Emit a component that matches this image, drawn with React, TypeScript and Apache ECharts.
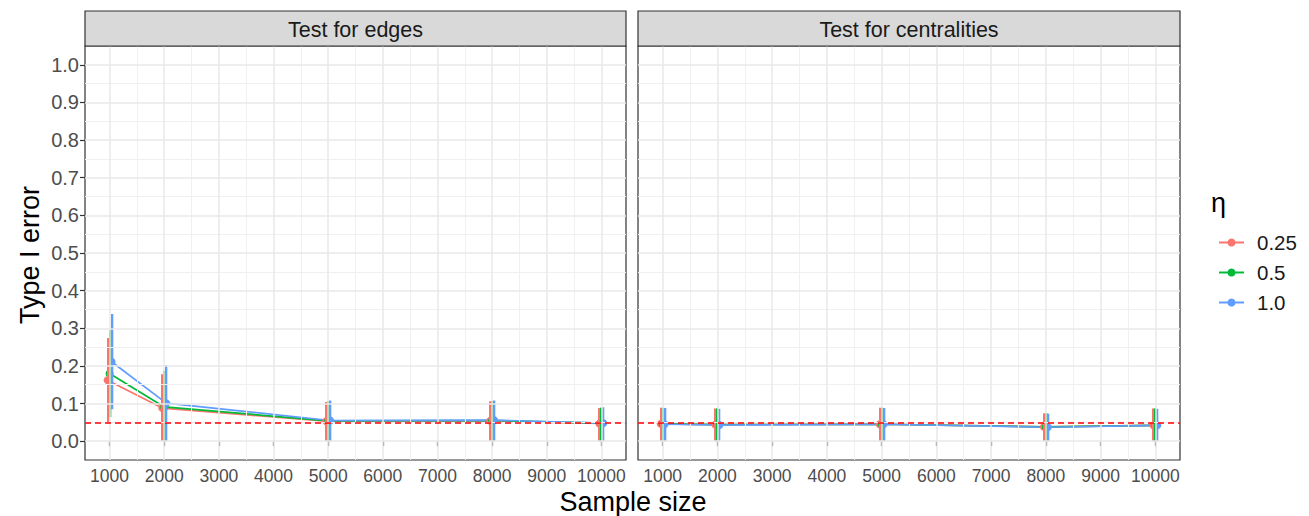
import React, { useEffect, useRef } from 'react';
import * as echarts from 'echarts';

const FONT = 'Liberation Sans, Arial, sans-serif';

const sampleSizes = [1000, 2000, 5000, 8000, 10000];
const etaLabels = ['0.25', '0.5', '1.0'];
const etaColors = ['#F8766D', '#00BA38', '#619CFF'];
const dodgeOffsets = [-36, 0, 36];
const panelTitles = ['Test for edges', 'Test for centralities'];

const xMajorTicks = [1000, 2000, 3000, 4000, 5000, 6000, 7000, 8000, 9000, 10000];
const xMinorTicks = [1500, 2500, 3500, 4500, 5500, 6500, 7500, 8500, 9500];
const yMajorTicks = [0, 0.1, 0.2, 0.3, 0.4, 0.5, 0.6, 0.7, 0.8, 0.9, 1.0];
const yMinorTicks = [0.05, 0.15, 0.25, 0.35, 0.45, 0.55, 0.65, 0.75, 0.85, 0.95];
const nominalLevel = 0.05;

// Test for edges
const edgesMean025 = [0.162, 0.088, 0.053, 0.054, 0.047];
const edgesMean05 = [0.18, 0.091, 0.054, 0.055, 0.048];
const edgesMean10 = [0.211, 0.101, 0.055, 0.056, 0.048];
const edgesUpper025 = [0.274, 0.178, 0.104, 0.106, 0.088];
const edgesUpper05 = [0.295, 0.187, 0.106, 0.107, 0.089];
const edgesUpper10 = [0.338, 0.202, 0.108, 0.108, 0.09];
const edgesLower025 = [0.05, 0, 0, 0, 0];
const edgesLower05 = [0.064, 0, 0, 0, 0];
const edgesLower10 = [0.085, 0, 0, 0, 0];

// Test for centralities
const centMean025 = [0.046, 0.044, 0.045, 0.038, 0.042];
const centMean05 = [0.046, 0.044, 0.045, 0.038, 0.042];
const centMean10 = [0.045, 0.043, 0.045, 0.037, 0.042];
const centUpper025 = [0.089, 0.087, 0.089, 0.074, 0.087];
const centUpper05 = [0.089, 0.087, 0.089, 0.075, 0.087];
const centUpper10 = [0.088, 0.086, 0.088, 0.073, 0.086];
const centLower025 = [0, 0, 0, 0, 0];
const centLower05 = [0, 0, 0, 0, 0];
const centLower10 = [0, 0, 0, 0, 0];

const panels = [
  {
    mean: [edgesMean025, edgesMean05, edgesMean10],
    upper: [edgesUpper025, edgesUpper05, edgesUpper10],
    lower: [edgesLower025, edgesLower05, edgesLower10],
  },
  {
    mean: [centMean025, centMean05, centMean10],
    upper: [centUpper025, centUpper05, centUpper10],
    lower: [centLower025, centLower05, centLower10],
  },
];

const grids = [
  { left: 85, top: 46, width: 541, height: 414 },
  { left: 638, top: 46, width: 542, height: 414 },
];

export default function App() {
  const ref = useRef<HTMLDivElement>(null);

  useEffect(() => {
    if (!ref.current) return;
    const chart = echarts.init(ref.current, null, { renderer: 'svg' });

    const lineSeries: any[] = [];
    const barSeries: any[] = [];
    const helperSeries: any[] = [];

    panels.forEach((panel, p) => {
      helperSeries.push({
        type: 'line',
        name: 'grid' + p,
        xAxisIndex: p,
        yAxisIndex: p,
        data: [],
        z: 1,
        silent: true,
        markLine: {
          silent: true,
          symbol: ['none', 'none'],
          label: { show: false },
          emphasis: { disabled: true },
          animation: false,
          data: [
            ...xMinorTicks.map((v) => ({ xAxis: v, lineStyle: { color: '#F0F0F0', width: 1, type: 'solid' } })),
            ...yMinorTicks.map((v) => ({ yAxis: v, lineStyle: { color: '#F0F0F0', width: 1, type: 'solid' } })),
            ...xMajorTicks.map((v) => ({ xAxis: v, lineStyle: { color: '#E8E8E8', width: 1.5, type: 'solid' } })),
            ...yMajorTicks.map((v) => ({ yAxis: v, lineStyle: { color: '#E8E8E8', width: 1.5, type: 'solid' } })),
          ],
        },
      });
      helperSeries.push({
        type: 'line',
        name: 'ref' + p,
        xAxisIndex: p,
        yAxisIndex: p,
        data: [],
        z: 10,
        silent: true,
        markLine: {
          silent: true,
          symbol: ['none', 'none'],
          label: { show: false },
          emphasis: { disabled: true },
          animation: false,
          data: [{ yAxis: nominalLevel, lineStyle: { color: '#FF0000', width: 1.6, type: [6, 4] } }],
        },
      });
      etaLabels.forEach((name, g) => {
        const color = etaColors[g];
        lineSeries.push({
          type: 'line',
          name,
          xAxisIndex: p,
          yAxisIndex: p,
          data: sampleSizes.map((n, i) => [n + dodgeOffsets[g], panel.mean[g][i]]),
          symbol: 'circle',
          symbolSize: 8,
          showSymbol: true,
          lineStyle: { color, width: 1.7 },
          itemStyle: { color },
          z: 3,
          silent: true,
        });
        barSeries.push({
          type: 'custom',
          name,
          xAxisIndex: p,
          yAxisIndex: p,
          data: sampleSizes.map((n, i) => [n + dodgeOffsets[g], panel.lower[g][i], panel.upper[g][i]]),
          encode: { x: 0, y: [1, 2] },
          z: 4,
          silent: true,
          renderItem: (_params: any, api: any) => {
            const x = api.value(0);
            const a = api.coord([x, api.value(1)]);
            const b = api.coord([x, api.value(2)]);
            const left = Math.round(a[0]) - 1;
            return {
              type: 'rect',
              shape: { x: left, y: b[1], width: 2.3, height: a[1] - b[1] },
              style: { fill: color, stroke: null, opacity: 1 },
            };
          },
        });
      });
    });

    const graphics: any[] = [];
    grids.forEach((gr, p) => {
      graphics.push({
        type: 'rect',
        shape: { x: gr.left, y: 11, width: gr.width, height: 35 },
        style: { fill: '#D9D9D9', stroke: '#333333', lineWidth: 1.2 },
        z: 100,
      });
      graphics.push({
        type: 'text',
        x: gr.left + gr.width / 2,
        y: 29.5,
        style: {
          text: panelTitles[p],
          fontSize: 21.5,
          fontFamily: FONT,
          fill: '#1A1A1A',
          textAlign: 'center',
          textVerticalAlign: 'middle',
        },
        z: 101,
      });
    });
    graphics.push({
      type: 'text',
      x: 30,
      y: 255,
      rotation: Math.PI / 2,
      style: {
        text: 'Type I error',
        fontSize: 27,
        fontFamily: FONT,
        fill: '#000000',
        textAlign: 'center',
        textVerticalAlign: 'middle',
      },
    });
    graphics.push({
      type: 'text',
      x: 633,
      y: 502,
      style: {
        text: 'Sample size',
        fontSize: 27,
        fontFamily: FONT,
        fill: '#000000',
        textAlign: 'center',
        textVerticalAlign: 'middle',
      },
    });
    graphics.push({
      type: 'text',
      x: 1211,
      y: 203,
      style: {
        text: 'η',
        fontSize: 27,
        fontFamily: FONT,
        fill: '#000000',
        textAlign: 'left',
        textVerticalAlign: 'middle',
      },
    });

    const option: any = {
      animation: false,
      backgroundColor: '#FFFFFF',
      textStyle: { fontFamily: FONT },
      grid: grids.map((g) => ({
        ...g,
        show: true,
        backgroundColor: '#FFFFFF',
        borderColor: '#333333',
        borderWidth: 1.2,
        containLabel: false,
      })),
      xAxis: grids.map((_, p) => ({
        type: 'value',
        gridIndex: p,
        min: 550,
        max: 10450,
        splitLine: { show: false },
        axisLine: { show: false },
        axisTick: { show: true, customValues: xMajorTicks, length: 5, lineStyle: { color: '#333333', width: 1.2 } },
        axisLabel: {
          show: true,
          customValues: xMajorTicks,
          fontSize: 17.5,
          fontFamily: FONT,
          color: '#4D4D4D',
          margin: 7,
          formatter: (v: number) => String(v),
        },
      })),
      yAxis: grids.map((_, p) => ({
        type: 'value',
        gridIndex: p,
        min: -0.05,
        max: 1.05,
        splitLine: { show: false },
        axisLine: { show: false },
        axisTick: {
          show: p === 0,
          customValues: yMajorTicks,
          length: 5,
          lineStyle: { color: '#333333', width: 1.2 },
        },
        axisLabel: {
          show: p === 0,
          customValues: yMajorTicks,
          fontSize: 20,
          fontFamily: FONT,
          color: '#4D4D4D',
          margin: 6,
          formatter: (v: number) => v.toFixed(1),
        },
      })),
      legend: {
        orient: 'vertical',
        left: 1213,
        top: 227,
        itemWidth: 25,
        itemHeight: 10,
        itemGap: 9,
        selectedMode: false,
        data: etaLabels,
        textStyle: { fontSize: 20.5, fontFamily: FONT, color: '#1A1A1A', padding: [0, 0, 0, 8] },
      },
      graphic: graphics,
      series: [...helperSeries, ...lineSeries, ...barSeries],
    };

    chart.setOption(option);
    return () => chart.dispose();
  }, []);

  return (
    <div
      ref={ref}
      style={{ position: 'fixed', left: 0, top: 0, width: 1309, height: 516, background: '#fff' }}
    />
  );
}
